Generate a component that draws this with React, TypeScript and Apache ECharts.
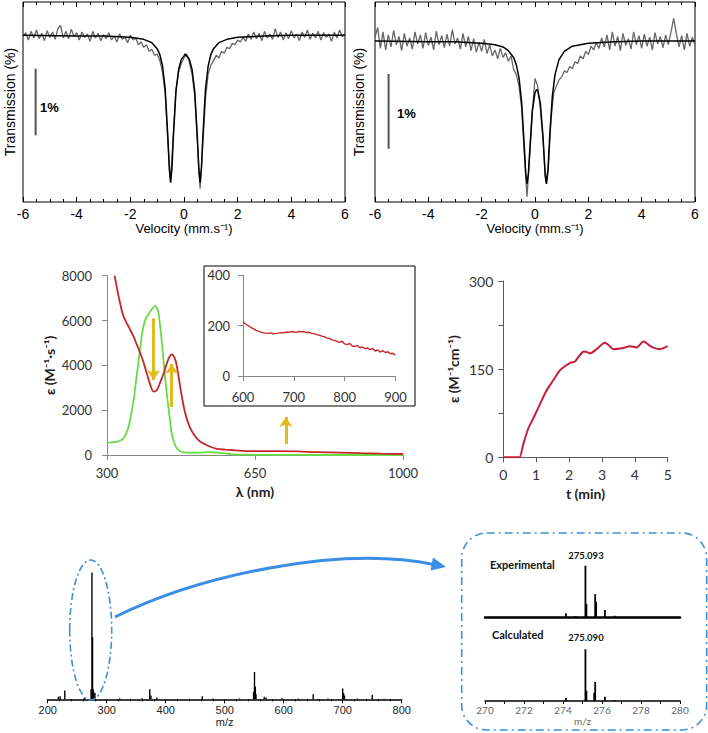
import React, { useEffect, useRef } from "react";
import * as echarts from "echarts";

// ---------- Mössbauer spectra (velocity channels, transmission %) ----------
const VEL_START = -6;
const VEL_STEP = 0.1;
const MOSS1_T = [
  99.98, 100.04, 99.93, 100.06, 99.96, 100.08, 99.95, 100.03, 99.92, 100.07,
  99.97, 100.05, 99.94, 100.1, 100.15, 99.96, 100.06, 99.95, 100.09, 99.98,
  100.04, 99.93, 100.05, 99.97, 100.02, 99.91, 100.06, 99.96, 100.03, 99.92,
  100.01, 99.95, 100.04, 99.93, 99.99, 99.9, 100.02, 99.94, 99.97, 99.89,
  100.0, 99.93, 99.96, 99.86, 99.9, 99.82, 99.86, 99.76, 99.79, 99.7,
  99.72, 99.62, 99.45, 99.12, 98.4, 97.8, 98.5, 99.18, 99.45, 99.58,
  99.66, 99.72, 99.6, 99.42, 99.1, 98.4, 97.7, 98.35, 99.05, 99.42,
  99.55, 99.62, 99.7, 99.66, 99.76, 99.73, 99.82, 99.8, 99.88, 99.86,
  99.93, 99.9, 99.97, 99.91, 100.02, 99.94, 100.05, 99.95, 100.03, 99.92,
  100.06, 99.96, 100.02, 99.94, 100.1, 99.97, 100.05, 99.93, 100.04, 99.95,
  100.07, 99.96, 100.02, 99.92, 100.05, 99.97, 100.08, 99.94, 100.03, 99.96,
  100.06, 99.93, 100.04, 99.97, 100.02, 99.91, 100.05, 99.96, 100.08, 99.98,
  100.03,
];
const MOSS1_FIT_V = [-6, -4, -3, -2, -1.5, -1.2, -1.0, -0.9, -0.8, -0.7, -0.6, -0.55, -0.5, -0.45, -0.4, -0.3, -0.2, -0.1, 0, 0.05, 0.1, 0.2, 0.3, 0.4, 0.5, 0.55, 0.6, 0.65, 0.7, 0.8, 0.9, 1.0, 1.1, 1.3, 1.6, 2, 3, 4, 6];
const MOSS1_FIT_T = [100.0, 99.99, 99.99, 99.97, 99.94, 99.89, 99.8, 99.71, 99.54, 99.19, 98.46, 98.01, 97.79, 98.0, 98.45, 99.16, 99.49, 99.64, 99.69, 99.72, 99.69, 99.64, 99.49, 99.16, 98.45, 98.0, 97.79, 98.01, 98.46, 99.19, 99.54, 99.71, 99.8, 99.89, 99.94, 99.97, 99.99, 100.0, 100.0];
const MOSS1_BAR = [[-5.53, 98.5], [-5.53, 99.5]];

const MOSS2_T = [
  100.05, 100.18, 99.9, 100.12, 99.88, 100.08, 99.92, 100.14, 99.95, 100.06,
  99.87, 100.1, 99.93, 100.04, 99.89, 100.12, 99.96, 100.08, 99.9, 100.11,
  99.94, 100.05, 99.88, 100.13, 99.95, 100.07, 99.91, 100.09, 99.93, 100.15,
  99.96, 100.04, 99.89, 100.1, 99.92, 100.06, 99.87, 100.03, 99.85, 99.98,
  99.86, 100.02, 99.83, 99.95, 99.8, 99.88, 99.76, 99.9, 99.78, 99.84,
  99.73, 99.8, 99.62, 99.55, 99.4, 99.1, 98.5, 97.92, 98.45, 99.05,
  99.5, 99.4, 99.1, 98.7, 98.12, 98.3, 98.95, 99.3, 99.4, 99.48,
  99.52, 99.6, 99.58, 99.66, 99.63, 99.72, 99.7, 99.8, 99.76, 99.86,
  99.82, 99.93, 99.88, 99.98, 99.9, 100.04, 99.92, 100.08, 99.88, 100.12,
  99.93, 100.06, 99.87, 100.1, 99.94, 100.03, 99.89, 100.12, 99.95, 100.07,
  99.9, 100.09, 99.93, 100.05, 99.88, 100.11, 99.96, 100.06, 99.91, 100.08,
  99.95, 100.12, 100.3, 100.1, 99.92, 100.07, 99.88, 100.1, 99.93, 100.05,
  99.95,
];
const MOSS2_FIT_V = [-6, -4, -3, -2, -1.5, -1.2, -1.0, -0.8, -0.7, -0.6, -0.5, -0.4, -0.35, -0.3, -0.25, -0.2, -0.1, 0, 0.06, 0.1, 0.2, 0.3, 0.38, 0.43, 0.48, 0.55, 0.65, 0.75, 0.9, 1.1, 1.4, 2, 3, 4, 6];
const MOSS2_FIT_T = [100.0, 99.99, 99.99, 99.97, 99.95, 99.92, 99.87, 99.78, 99.68, 99.51, 99.18, 98.58, 98.24, 98.09, 98.22, 98.52, 99.07, 99.31, 99.35, 99.34, 99.17, 98.72, 98.22, 98.09, 98.24, 98.72, 99.26, 99.55, 99.75, 99.86, 99.93, 99.97, 99.99, 100.0, 100.0];
const MOSS2_BAR = [[-5.49, 98.56], [-5.49, 99.56]];

// ---------- UV-vis ----------
const UV_RED_L = [318, 325, 331, 337, 343, 353, 363, 371, 379, 387, 394, 402, 410, 418, 426, 434, 440, 446, 453, 458, 463, 468, 473, 479, 485, 491, 497, 508, 520, 540, 560, 580, 600, 620, 650, 700, 750, 800, 850, 900, 950, 1000];
const UV_RED_E = [8000, 7300, 6770, 6300, 6020, 5650, 5280, 4900, 4530, 4100, 3640, 3150, 2830, 2900, 3250, 3650, 4000, 4310, 4490, 4400, 4150, 3650, 3050, 2400, 1860, 1480, 1190, 850, 600, 400, 270, 240, 212, 188, 169, 175, 162, 126, 110, 82, 60, 45];
const UV_GREEN_L = [300, 312, 324, 332, 339, 345, 351, 357, 363, 369, 375, 379, 383, 387, 391, 397, 402, 408, 414, 418, 422, 426, 430, 434, 438, 442, 446, 450, 453, 459, 465, 473, 481, 500, 520, 540, 560, 580, 600, 650, 700, 800, 1000];
const UV_GREEN_E = [550, 560, 595, 650, 740, 950, 1260, 1800, 2450, 3350, 4240, 4850, 5430, 5800, 6050, 6250, 6400, 6550, 6650, 6560, 6320, 5700, 4980, 4150, 3350, 2650, 2000, 1400, 970, 550, 300, 170, 120, 100, 110, 130, 110, 70, 30, 10, 5, 0, 0];
const UV_ARROWS = [
  [[410, 6100], [410, 3350]],
  [[453, 2140], [453, 4060]],
  [[723, 490], [723, 1700]],
];
const INSET_L = [
  600, 605, 610, 615, 620, 625, 630, 635, 640, 645,
  650, 655, 660, 665, 670, 675, 680, 685, 690, 695,
  700, 705, 710, 715, 720, 725, 730, 735, 740, 745,
  750, 755, 760, 765, 770, 775, 780, 785, 790, 795,
  800, 805, 810, 815, 820, 825, 830, 835, 840, 845,
  850, 855, 860, 865, 870, 875, 880, 885, 890, 895,
  900,
];
const INSET_E = [
  214, 206, 200, 193, 188, 182, 178, 174, 171, 170,
  169, 171, 167, 169, 170, 172, 171, 174, 173, 176,
  175, 173, 177, 175, 176, 172, 173, 169, 168, 164,
  162, 158, 156, 150, 149, 143, 141, 137, 133, 138,
  127, 124, 129, 119, 117, 121, 112, 115, 108, 111,
  104, 109, 99, 103, 95, 100, 93, 96, 88, 90,
  82,
];

// ---------- Kinetics ----------
const KIN_T = [0, 0.2, 0.35, 0.49, 0.61, 0.76, 0.91, 1.12, 1.32, 1.52, 1.72, 1.93, 2.05, 2.18, 2.33, 2.45, 2.55, 2.64, 2.84, 3.09, 3.2, 3.35, 3.65, 3.85, 4.06, 4.26, 4.51, 4.77, 5.0];
const KIN_E = [0, 0, 0, 0, 23, 49, 66, 91, 114, 131, 148, 157, 161, 163, 174, 180, 179, 177, 184, 195, 191, 184, 186, 189, 187, 197, 188, 184, 189];

// ---------- Mass spectra ----------
const MS_MZ = [218, 221, 229, 262, 273.5, 275, 276, 277, 278, 280, 322, 360, 373, 375, 385, 462, 480, 525, 549, 550.5, 552, 553, 567, 570, 597, 625, 650, 675, 700, 701.5, 703, 725, 750, 770];
const MS_INT = [2, 2.5, 7, 1, 8, 100, 49, 8, 6, 5, 0.8, 0.8, 8, 3, 1.5, 2.5, 0.6, 0.7, 6, 21.5, 10, 4, 2, 1.5, 0.8, 0.6, 4, 0.6, 8.5, 5, 3, 0.7, 3.5, 0.5];
const EXP_MZ = [274.15, 274.65, 275.15, 275.2, 275.65, 275.7, 276.15, 276.65];
const EXP_INT = [8, 2, 100, 26, 45, 30, 14, 3];
const CALC_MZ = [274.15, 275.15, 275.2, 275.6, 275.65, 276.15, 276.65];
const CALC_INT = [6, 100, 20, 16, 37, 8, 2];

const NARROW = '"Liberation Sans Narrow", "Liberation Sans", Arial, sans-serif';
const ARIAL = '"Liberation Sans", Arial, sans-serif';
const CAL = 'Lato, "Open Sans", sans-serif';
const BLUE = "#3d8fd9";

const zip = (a: number[], b: number[]) => a.map((v, i) => [v, b[i]]);
const velData = (t: number[]) =>
  t.map((v, i) => [Math.round((VEL_START + i * VEL_STEP) * 100) / 100, v]);
const plain = (v: number) => String(v);

function mossX(gridIndex: number, position: string, labels: boolean) {
  return {
    type: "value",
    gridIndex,
    position,
    min: -6,
    max: 6,
    interval: 2,
    axisLine: { show: false },
    axisTick: { show: true, inside: true, length: 5, lineStyle: { color: "#000" } },
    minorTick: { show: true, splitNumber: 4, length: 3, lineStyle: { color: "#000" } },
    splitLine: { show: false },
    minorSplitLine: { show: false },
    axisLabel: { show: labels, margin: 5, color: "#000", fontSize: 14, fontFamily: NARROW },
    name: labels ? "Velocity (mm.s⁻¹)" : "",
    nameLocation: "middle",
    nameGap: 12,
    nameTextStyle: { color: "#000", fontSize: 13, fontFamily: NARROW },
  };
}
function mossY(gridIndex: number, min: number, max: number, gap: number) {
  return {
    type: "value",
    gridIndex,
    min,
    max,
    axisLine: { show: false },
    axisTick: { show: false },
    axisLabel: { show: false },
    splitLine: { show: false },
    name: "Transmission (%)",
    nameLocation: "middle",
    nameGap: gap,
    nameTextStyle: { color: "#000", fontSize: 14, fontFamily: ARIAL },
  };
}
const grayAxis = { show: true, lineStyle: { color: "#868686", width: 1 } };

export default function App() {
  const ref = useRef<HTMLDivElement>(null);
  useEffect(() => {
    const chart = echarts.init(ref.current!, null, { renderer: "svg" });
    const option: any = {
      animation: false,
      backgroundColor: "#fff",
      grid: [
        { left: 23, top: 2, width: 322, height: 200, show: true, borderColor: "#000", borderWidth: 1 },
        { left: 375, top: 2, width: 320, height: 200, show: true, borderColor: "#000", borderWidth: 1 },
        { left: 107, top: 275.7, width: 296, height: 179.3 },
        { left: 243, top: 275, width: 152.5, height: 101 },
        { left: 503.3, top: 281, width: 164.4, height: 176.3 },
        { left: 47.7, top: 572.6, width: 354, height: 126.7 },
        { left: 485, top: 565.7, width: 195, height: 51.6 },
        { left: 485, top: 649.3, width: 195, height: 51.7 },
      ],
      xAxis: [
        mossX(0, "bottom", true),
        mossX(0, "top", false),
        mossX(1, "bottom", true),
        mossX(1, "top", false),
        {
          type: "value", gridIndex: 2, min: 300, max: 1000, interval: 350,
          axisLine: grayAxis,
          axisTick: { show: true, length: 5, lineStyle: { color: "#868686" } },
          splitLine: { show: false },
          axisLabel: { margin: 11, color: "#333", fontSize: 13, fontFamily: CAL, formatter: plain },
          name: "λ (nm)", nameLocation: "middle", nameGap: 29,
          nameTextStyle: { color: "#222", fontSize: 14, fontWeight: "bold", fontFamily: CAL },
        },
        {
          type: "value", gridIndex: 3, min: 600, max: 900, interval: 100,
          axisLine: grayAxis,
          axisTick: { show: true, length: 5, lineStyle: { color: "#868686" } },
          splitLine: { show: false },
          axisLabel: { margin: 14, color: "#333", fontSize: 13, fontFamily: CAL, formatter: plain },
        },
        {
          type: "value", gridIndex: 4, min: 0, max: 5, interval: 1,
          axisLine: { show: true, lineStyle: { color: "#595959", width: 1 } },
          axisTick: { show: true, length: 5, lineStyle: { color: "#595959" } },
          splitLine: { show: false },
          axisLabel: { margin: 10, color: "#333", fontSize: 14, fontFamily: CAL },
          name: "t (min)", nameLocation: "middle", nameGap: 29,
          nameTextStyle: { color: "#222", fontSize: 14, fontWeight: "bold", fontFamily: CAL },
        },
        {
          type: "value", gridIndex: 5, min: 200, max: 800, interval: 100,
          axisLine: { show: true, lineStyle: { color: "#000", width: 1.5 } },
          axisTick: { show: true, length: 4, lineStyle: { color: "#000" } },
          minorTick: { show: true, splitNumber: 5, length: 2, lineStyle: { color: "#000" } },
          splitLine: { show: false },
          axisLabel: { margin: 5, color: "#222", fontSize: 11, fontFamily: ARIAL },
          name: "m/z", nameLocation: "middle", nameGap: 15,
          nameTextStyle: { color: "#222", fontSize: 11, fontFamily: ARIAL },
        },
        {
          type: "value", gridIndex: 6, min: 270, max: 280,
          axisLine: { show: true, lineStyle: { color: "#000", width: 2.5 } },
          axisTick: { show: false },
          axisLabel: { show: false },
          splitLine: { show: false },
        },
        {
          type: "value", gridIndex: 7, min: 270, max: 280, interval: 2,
          axisLine: { show: true, lineStyle: { color: "#000", width: 1.5 } },
          axisTick: { show: true, length: 3, lineStyle: { color: "#000" } },
          minorTick: { show: true, splitNumber: 2, length: 3, lineStyle: { color: "#000" } },
          splitLine: { show: false },
          axisLabel: { margin: 4, color: "#666", fontSize: 10, fontFamily: CAL },
          name: "m/z", nameLocation: "middle", nameGap: 9,
          nameTextStyle: { color: "#666", fontSize: 10, fontFamily: CAL },
        },
      ],
      yAxis: [
        mossY(0, 97.5, 100.5, 6),
        mossY(1, 97.85, 100.52, 9),
        {
          type: "value", gridIndex: 2, min: 0, max: 8000, interval: 2000,
          axisLine: grayAxis,
          axisTick: { show: true, length: 5, lineStyle: { color: "#868686" } },
          splitLine: { show: false },
          axisLabel: { margin: 15, color: "#333", fontSize: 13, fontFamily: CAL, formatter: plain },
          name: "ε (M⁻¹·s⁻¹)", nameLocation: "middle", nameGap: 51,
          nameTextStyle: { color: "#222", fontSize: 14, fontWeight: "bold", fontFamily: CAL },
        },
        {
          type: "value", gridIndex: 3, min: 0, max: 400, interval: 200,
          axisLine: grayAxis,
          axisTick: { show: true, length: 5, lineStyle: { color: "#868686" } },
          splitLine: { show: false },
          axisLabel: { margin: 13, color: "#333", fontSize: 13, fontFamily: CAL, formatter: plain },
        },
        {
          type: "value", gridIndex: 4, min: 0, max: 300, interval: 75,
          axisLine: { show: true, lineStyle: { color: "#595959", width: 1 } },
          axisTick: { show: true, length: 5, lineStyle: { color: "#595959" } },
          splitLine: { show: false },
          axisLabel: {
            margin: 10, color: "#333", fontSize: 14, fontFamily: CAL,
            formatter: (v: number) => (v % 150 === 0 ? String(v) : ""),
          },
          name: "ε (M⁻¹cm⁻¹)", nameLocation: "middle", nameGap: 43,
          nameTextStyle: { color: "#222", fontSize: 14, fontWeight: "bold", fontFamily: CAL },
        },
        { type: "value", gridIndex: 5, min: 0, max: 100, show: false },
        { type: "value", gridIndex: 6, min: 0, max: 100, show: false },
        { type: "value", gridIndex: 7, min: 0, max: 100, show: false },
      ],
      series: [
        { type: "line", xAxisIndex: 0, yAxisIndex: 0, data: velData(MOSS1_T), symbol: "none", lineStyle: { color: "#666", width: 1.3 } },
        { type: "line", xAxisIndex: 0, yAxisIndex: 0, data: zip(MOSS1_FIT_V, MOSS1_FIT_T), symbol: "none", lineStyle: { color: "#000", width: 1.5 }, z: 3 },
        { type: "line", xAxisIndex: 0, yAxisIndex: 0, data: MOSS1_BAR, symbol: "none", lineStyle: { color: "#555", width: 2 } },
        { type: "line", xAxisIndex: 2, yAxisIndex: 1, data: velData(MOSS2_T), symbol: "none", lineStyle: { color: "#666", width: 1.3 } },
        { type: "line", xAxisIndex: 2, yAxisIndex: 1, data: zip(MOSS2_FIT_V, MOSS2_FIT_T), symbol: "none", lineStyle: { color: "#000", width: 1.5 }, z: 3 },
        { type: "line", xAxisIndex: 2, yAxisIndex: 1, data: MOSS2_BAR, symbol: "none", lineStyle: { color: "#555", width: 2 } },
        { type: "line", xAxisIndex: 4, yAxisIndex: 2, data: zip(UV_GREEN_L, UV_GREEN_E), symbol: "none", smooth: 0.3, lineStyle: { color: "#66dd44", width: 1.8 } },
        { type: "line", xAxisIndex: 4, yAxisIndex: 2, data: zip(UV_RED_L, UV_RED_E), symbol: "none", smooth: 0.3, lineStyle: { color: "#c8252b", width: 1.8 } },
        {
          type: "lines", coordinateSystem: "cartesian2d", xAxisIndex: 4, yAxisIndex: 2,
          data: UV_ARROWS.map((c) => ({ coords: c })),
          symbol: ["none", "arrow"], symbolSize: 10,
          lineStyle: { color: "#e2bb1a", width: 3, opacity: 1 },
          z: 4,
        },
        { type: "line", xAxisIndex: 5, yAxisIndex: 3, data: zip(INSET_L, INSET_E), symbol: "none", lineStyle: { color: "#c8252b", width: 1.4 }, z: 5 },
        { type: "line", xAxisIndex: 6, yAxisIndex: 4, data: zip(KIN_T, KIN_E), symbol: "none", smooth: 0.25, lineStyle: { color: "#c81e3c", width: 2 } },
        { type: "bar", xAxisIndex: 7, yAxisIndex: 5, data: zip(MS_MZ, MS_INT), barWidth: 1.4, itemStyle: { color: "#000" } },
        { type: "bar", xAxisIndex: 8, yAxisIndex: 6, data: zip(EXP_MZ, EXP_INT), barWidth: 1.8, itemStyle: { color: "#000" } },
        { type: "bar", xAxisIndex: 9, yAxisIndex: 7, data: zip(CALC_MZ, CALC_INT), barWidth: 1.8, itemStyle: { color: "#000" } },
      ],
      graphic: [
        { type: "rect", z: 0, shape: { x: 204, y: 266, width: 211, height: 140 }, style: { fill: "#fff", stroke: "#000", lineWidth: 1 } },
        { type: "text", z: 10, style: { text: "1%", x: 40, y: 107, fill: "#000", font: "bold 13px " + ARIAL, textVerticalAlign: "middle" } },
        { type: "text", z: 10, style: { text: "1%", x: 397, y: 113, fill: "#000", font: "bold 13px " + ARIAL, textVerticalAlign: "middle" } },
        { type: "ellipse", z: 10, shape: { cx: 90.7, cy: 630, rx: 21, ry: 70 }, style: { fill: "none", stroke: BLUE, lineWidth: 1.6, lineDash: [7, 3, 2, 3] } },
        { type: "bezierCurve", z: 10, shape: { x1: 115, y1: 617, cpx1: 200, cpy1: 575, cpx2: 340, cpy2: 545, x2: 434, y2: 564.5 }, style: { fill: "none", stroke: "#3a8ee6", lineWidth: 3 } },
        { type: "polygon", z: 10, shape: { points: [[446, 567], [433, 557.5], [430.5, 570.5]] }, style: { fill: "#3a8ee6" } },
        { type: "rect", z: 10, shape: { x: 461.7, y: 533, width: 245, height: 197, r: 25 }, style: { fill: "none", stroke: BLUE, lineWidth: 1.6, lineDash: [8, 4, 2, 4] } },
        { type: "text", z: 10, style: { text: "Experimental", x: 490, y: 564, fill: "#111", font: "bold 11px " + CAL, textVerticalAlign: "middle" } },
        { type: "text", z: 10, style: { text: "275.093", x: 586, y: 555, fill: "#111", font: "bold 9.5px " + CAL, textAlign: "center", textVerticalAlign: "middle" } },
        { type: "text", z: 10, style: { text: "Calculated", x: 492, y: 634, fill: "#111", font: "bold 11px " + CAL, textVerticalAlign: "middle" } },
        { type: "text", z: 10, style: { text: "275.090", x: 586, y: 637, fill: "#111", font: "bold 9.5px " + CAL, textAlign: "center", textVerticalAlign: "middle" } },
      ],
    };
    chart.setOption(option);
    return () => chart.dispose();
  }, []);
  return (
    <div
      ref={ref}
      style={{ position: "absolute", left: 0, top: 0, width: 708, height: 733, background: "#fff" }}
    />
  );
}
